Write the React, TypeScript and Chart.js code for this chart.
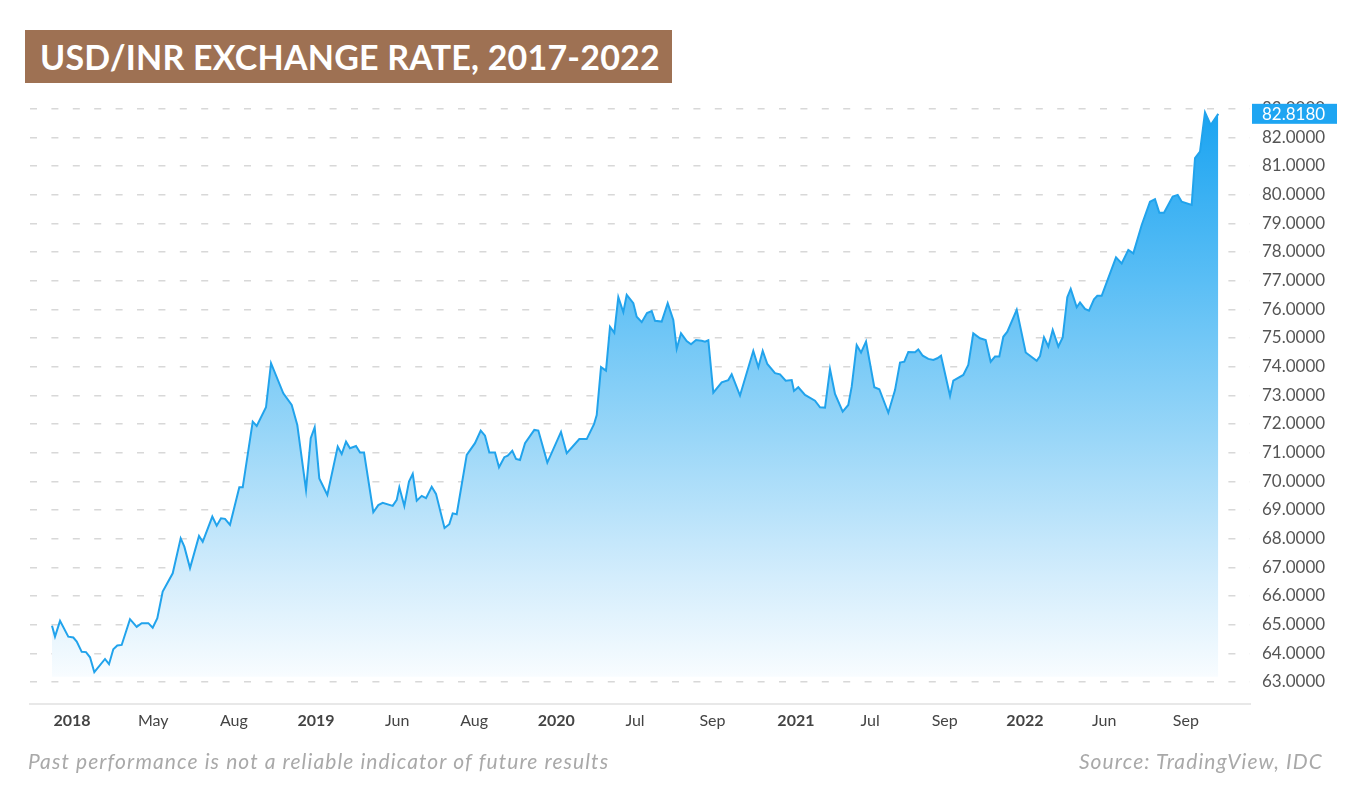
import React, { useEffect, useRef } from "react";
import { Chart, registerables } from "chart.js";

Chart.register(...registerables);

// Weeks elapsed since the start of the series (late Dec 2017)
const weeks = [
  0, 0.64, 1.72, 3.49, 4.57, 5.3, 6.37, 7.29, 8.15, 9.07,
  11.36, 12.22, 13.14, 14.0, 14.94, 16.72, 18.16, 19.23, 20.65, 21.59,
  22.58, 23.73, 25.88, 27.59, 28.37, 29.59, 31.52, 32.31, 34.37, 35.31,
  36.23, 37.09, 38.16, 40.16, 40.89, 43.03, 43.89, 45.88, 46.96, 49.59,
  51.39, 52.59, 54.46, 55.47, 56.32, 57.31, 59.03, 61.26, 62.11, 63.04,
  63.89, 65.18, 66.04, 66.9, 68.89, 69.96, 70.9, 73.05, 73.91, 74.47,
  75.54, 76.54, 77.34, 78.2, 79.27, 80.19, 81.41, 82.33, 84.16, 85.18,
  85.91, 86.77, 88.92, 90.69, 91.92, 92.84, 93.76, 94.98, 95.84, 96.98,
  97.71, 98.69, 99.49, 100.34, 101.42, 103.41, 104.27, 106.2, 109.13, 110.36,
  113.06, 114.64, 116.21, 116.79, 117.71, 118.78, 119.64, 120.56, 121.42, 122.49,
  123.22, 124.64, 125.36, 126.44, 127.57, 128.58, 129.29, 130.72, 132.01, 133.21,
  133.94, 134.86, 136.08, 137.01, 138.08, 139.3, 140.01, 140.72, 141.79, 143.59,
  145.0, 145.73, 147.51, 150.36, 151.44, 152.38, 153.37, 155.02, 156.09, 157.31,
  158.6, 159.09, 160.01, 161.45, 163.59, 164.67, 165.74, 166.81, 167.88, 169.53,
  170.73, 171.46, 172.53, 173.46, 174.53, 176.31, 177.38, 179.31, 180.75, 181.82,
  182.74, 183.6, 185.03, 185.74, 186.69, 187.89, 188.96, 189.82, 190.61, 192.54,
  193.25, 195.39, 196.46, 197.53, 198.97, 200.19, 201.26, 202.19, 203.11, 203.97,
  204.83, 206.84, 208.77, 211.13, 211.84, 212.69, 213.62, 214.56, 215.76, 216.7,
  217.69, 218.42, 219.71, 220.41, 221.48, 222.34, 223.41, 224.12, 225.06, 228.13,
  229.35, 230.77, 231.84, 233.64, 235.42, 236.49, 237.41, 238.42, 240.29, 241.36,
  242.22, 244.36, 245.07, 246.14, 247.21, 248.43, 250.06,
];

// USD/INR rate
const rates = [
  64.96, 64.58, 65.13, 64.58, 64.55, 64.41, 64.05, 64.04, 63.86, 63.34,
  63.8, 63.62, 64.14, 64.27, 64.29, 65.19, 64.92, 65.05, 65.05, 64.89,
  65.22, 66.15, 66.79, 68.01, 67.72, 66.97, 68.09, 67.89, 68.77, 68.45,
  68.71, 68.69, 68.48, 69.79, 69.79, 72.08, 71.93, 72.58, 74.12, 73.07,
  72.66, 71.96, 69.7, 71.5, 71.88, 70.1, 69.52, 71.21, 70.95, 71.38,
  71.15, 71.23, 71.0, 71.0, 68.92, 69.17, 69.25, 69.14, 69.35, 69.79,
  69.14, 69.99, 70.26, 69.32, 69.49, 69.41, 69.81, 69.56, 68.37, 68.5,
  68.88, 68.85, 70.92, 71.33, 71.77, 71.59, 71.0, 71.0, 70.49, 70.84,
  70.89, 71.06, 70.78, 70.74, 71.33, 71.79, 71.77, 70.65, 71.72, 70.98,
  71.47, 71.47, 71.99, 72.31, 73.98, 73.86, 75.39, 75.18, 76.42, 75.9,
  76.5, 76.21, 75.74, 75.55, 75.87, 75.94, 75.6, 75.57, 76.21, 75.63,
  74.62, 75.16, 74.89, 74.78, 74.93, 74.9, 74.87, 74.92, 73.09, 73.45,
  73.53, 73.73, 72.99, 74.55, 73.98, 74.55, 74.09, 73.77, 73.73, 73.51,
  73.53, 73.15, 73.28, 73.01, 72.81, 72.58, 72.57, 73.91, 73.05, 72.43,
  72.66, 73.3, 74.75, 74.49, 74.87, 73.28, 73.21, 72.39, 73.18, 74.14,
  74.17, 74.51, 74.5, 74.6, 74.38, 74.27, 74.23, 74.29, 74.38, 72.98,
  73.51, 73.71, 74.06, 75.16, 74.99, 74.93, 74.17, 74.35, 74.35, 75.04,
  75.22, 75.98, 74.49, 74.2, 74.37, 75.02, 74.7, 75.28, 74.7, 75.02,
  76.42, 76.71, 76.07, 76.24, 76.01, 75.95, 76.35, 76.47, 76.47, 77.81,
  77.6, 78.07, 77.95, 78.94, 79.75, 79.84, 79.37, 79.37, 79.93, 79.99,
  79.75, 79.64, 81.27, 81.5, 82.87, 82.43, 82.818,
];

const tickWeeks = [4.3, 21.7, 39.0, 56.6, 74.0, 90.5, 108.1, 125.0, 141.6, 159.5, 175.4, 191.4, 208.6, 225.6, 243.1];
const tickLabels = ["2018", "May", "Aug", "2019", "Jun", "Aug", "2020", "Jul", "Sep", "2021", "Jul", "Sep", "2022", "Jun", "Sep"];
const yTickValues = [63, 64, 65, 66, 67, 68, 69, 70, 71, 72, 73, 74, 75, 76, 77, 78, 79, 80, 81, 82, 83];
const lastRate = 82.818;

const TITLE = "USD/INR EXCHANGE RATE, 2017-2022";
const NOTE = "Past performance is not a reliable indicator of future results";
const SOURCE = "Source: TradingView, IDC";

const FONT = "Lato, 'Noto Sans', sans-serif";

export default function App() {
  const canvasRef = useRef<HTMLCanvasElement | null>(null);

  useEffect(() => {
    const canvas = canvasRef.current;
    if (!canvas) return;

    const lastTag = {
      id: "lastTag",
      afterDraw(chart: any) {
        const { ctx, chartArea } = chart;
        const ys = chart.scales.y;
        const y = ys.getPixelForValue(lastRate);
        ctx.save();
        ctx.fillStyle = "#1ea5f2";
        ctx.fillRect(chartArea.right + 2, y - 10, 85, 20);
        ctx.fillStyle = "#ffffff";
        ctx.font = `17px ${FONT}`;
        ctx.textBaseline = "middle";
        ctx.textAlign = "left";
        ctx.fillText(lastRate.toFixed(4), chartArea.right + 12, y + 1);
        ctx.restore();
      },
    };

    const chart = new Chart(canvas, {
      type: "line",
      data: {
        datasets: [
          {
            data: weeks.map((w, i) => ({ x: w, y: rates[i] })),
            borderColor: "rgb(33,163,236)",
            borderWidth: 2,
            pointRadius: 0,
            tension: 0,
            fill: { value: 63.18 },
            backgroundColor: (ctx: any) => {
              const { chart } = ctx;
              const area = chart.chartArea;
              if (!area) return "rgba(30,165,242,0.5)";
              const ys = chart.scales.y;
              const top = ys.getPixelForValue(83);
              const bot = ys.getPixelForValue(63);
              const g = chart.ctx.createLinearGradient(0, top, 0, bot);
              g.addColorStop(0, "rgb(25,163,241)");
              g.addColorStop(0.3, "rgb(90,190,245)");
              g.addColorStop(0.58, "rgb(155,215,248)");
              g.addColorStop(0.82, "rgb(212,237,252)");
              g.addColorStop(1, "rgb(250,253,255)");
              return g;
            },
          },
        ],
      },
      options: {
        animation: false,
        responsive: false,
        devicePixelRatio: 1,
        layout: { padding: { left: 30, right: 0, top: 108.6, bottom: 63 } },
        plugins: { legend: { display: false }, tooltip: { enabled: false } },
        scales: {
          x: {
            type: "linear",
            min: -4.72,
            max: 256.86,
            afterBuildTicks: (scale: any) => {
              scale.ticks = tickWeeks.map((v) => ({ value: v }));
            },
            afterFit: (scale: any) => {
              scale.height = 30;
            },
            grid: { display: false, drawTicks: false },
            border: { display: true, color: "#e8e8e8", width: 2 },
            ticks: {
              autoSkip: false,
              maxRotation: 0,
              padding: 7,
              color: "#444444",
              font: (ctx: any) => {
                const idx = ctx.index;
                const lab = tickLabels[idx] || "";
                return { family: FONT, size: 16, weight: /^\d{4}$/.test(lab) ? "bold" : "normal" };
              },
              callback: (_v: any, i: number) => tickLabels[i],
            },
          },
          y: {
            type: "linear",
            position: "right",
            min: 62.23,
            max: 83,
            afterBuildTicks: (scale: any) => {
              scale.ticks = yTickValues.map((v) => ({ value: v }));
            },
            afterFit: (scale: any) => {
              scale.width = 100;
            },
            grid: {
              drawTicks: false,
              color: "#d8d8d8",
              lineWidth: 1.5,
            },
            border: { display: false, dash: [7, 14.4] },
            ticks: {
              padding: 12,
              color: "#555555",
              font: { family: FONT, size: 17 },
              callback: (v: any) => Number(v).toFixed(4),
            },
          },
        },
      },
      plugins: [lastTag],
    });

    return () => chart.destroy();
  }, []);

  return (
    <div
      style={{
        position: "fixed",
        left: 0,
        top: 0,
        width: 1350,
        height: 797,
        background: "#ffffff",
        overflow: "hidden",
        fontFamily: FONT,
      }}
    >
      <canvas
        ref={canvasRef}
        width={1350}
        height={797}
        style={{ position: "absolute", left: 0, top: 0, width: 1350, height: 797 }}
      />
      <div
        style={{
          position: "absolute",
          left: 25,
          top: 30,
          width: 647,
          height: 53,
          background: "#9e7153",
          color: "#ffffff",
          fontWeight: 700,
          fontSize: 34,
          lineHeight: "53px",
          paddingLeft: 15,
          letterSpacing: "0.2px",
          boxSizing: "border-box",
          whiteSpace: "nowrap",
        }}
      >
        {TITLE}
      </div>
      <div
        style={{
          position: "absolute",
          left: 28,
          top: 747,
          fontSize: 21,
          fontStyle: "italic",
          color: "#a9a9a9",
          lineHeight: "28px",
          letterSpacing: "1.1px",
          whiteSpace: "nowrap",
        }}
      >
        {NOTE}
      </div>
      <div
        style={{
          position: "absolute",
          right: 27,
          top: 747,
          fontSize: 21,
          fontStyle: "italic",
          color: "#a9a9a9",
          lineHeight: "28px",
          letterSpacing: "1.1px",
          whiteSpace: "nowrap",
        }}
      >
        {SOURCE}
      </div>
    </div>
  );
}
